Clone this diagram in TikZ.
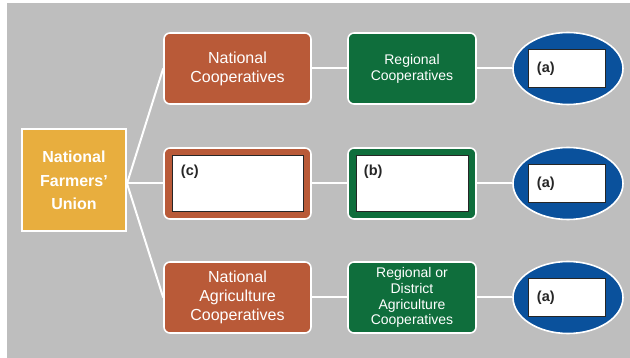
\documentclass[tikz,border=0pt]{standalone}
\usepackage{fontspec}
\setmainfont{Liberation Sans}
\usetikzlibrary{shapes.geometric}
\definecolor{bggrey}{HTML}{BEBEBE}
\definecolor{nfuyellow}{HTML}{E8AE3E}
\definecolor{rust}{HTML}{B95A38}
\definecolor{forest}{HTML}{0F6E3C}
\definecolor{royal}{HTML}{0A519C}
\tikzset{
  nfubox/.style={rectangle, fill=nfuyellow, draw=white, line width=2pt, minimum width=104pt, minimum height=102pt, align=center, text=white, font=\fontsize{16}{23.5}\selectfont\bfseries},
  natbox/.style={rectangle, rounded corners=6pt, fill=rust, draw=white, line width=1.6pt, minimum width=147pt, minimum height=71pt, align=center, text=white, font=\fontsize{16}{19}\selectfont},
  regbox/.style={rectangle, rounded corners=6pt, fill=forest, draw=white, line width=1.6pt, minimum width=128pt, minimum height=71pt, align=center, text=white, font=\fontsize{14}{15.8}\selectfont},
  endell/.style={ellipse, fill=royal, draw=white, line width=1.6pt, minimum width=110pt, minimum height=72pt, inner sep=0pt},
  ansbox/.style={rectangle, fill=white, draw=black!85, line width=1.5pt, inner sep=0pt},
  anslbl/.style={font=\fontsize{14.5}{16}\selectfont\bfseries, text=black!85, inner sep=0pt},
  link/.style={draw=white, line width=2pt}
}
\begin{document}
\begin{tikzpicture}[x=1pt,y=-1pt]
\useasboundingbox (0,0) rectangle (630,358);
\fill[bggrey] (7,3) rectangle (630,358);

\node[nfubox] (nfu) at (74,180.5) {National\\Farmers’\\Union};

\node[natbox] (nc) at (237.5,68.5) {National\\Cooperatives};
\node[natbox] (nm) at (237.5,183.5) {};
\node[natbox] (nb) at (237.5,297.5) {National\\Agriculture\\Cooperatives};

\node[regbox] (gc) at (412,68.5) {Regional\\Cooperatives};
\node[regbox] (gm) at (412,183.5) {};
\node[regbox] (gb) at (412,297.5) {Regional or\\District\\Agriculture\\Cooperatives};

\node[endell] (ec) at (568,68.5) {};
\node[endell] (em) at (568,183.5) {};
\node[endell] (eb) at (568,297.5) {};

% answer boxes
\node[ansbox, minimum width=131pt, minimum height=56pt] (cbox) at (238,183.5) {};
\node[anslbl, anchor=north west] (clbl) at ([xshift=9pt,yshift=-10pt]cbox.north west) {(c)};
\node[ansbox, minimum width=112pt, minimum height=56pt] (bbox) at (412.5,183.5) {};
\node[anslbl, anchor=north west] (blbl) at ([xshift=8pt,yshift=-10pt]bbox.north west) {(b)};

\node[ansbox, minimum width=77pt, minimum height=38pt] (abox1) at (567,68.5) {};
\node[anslbl, anchor=west] (albl1) at ([xshift=9pt]abox1.west) {(a)};
\node[ansbox, minimum width=77pt, minimum height=38pt] (abox2) at (567,183.5) {};
\node[anslbl, anchor=west] (albl2) at ([xshift=9pt]abox2.west) {(a)};
\node[ansbox, minimum width=77pt, minimum height=38pt] (abox3) at (567,297.5) {};
\node[anslbl, anchor=west] (albl3) at ([xshift=9pt]abox3.west) {(a)};

% connectors
\coordinate (fan) at (nfu.east |- nm.west);
\draw[link] (fan) -- (nc.west);
\draw[link] (fan) -- (nm.west);
\draw[link] (fan) -- (nb.west);
\draw[link] (nc.east) -- (gc.west);
\draw[link] (nm.east) -- (gm.west);
\draw[link] (nb.east) -- (gb.west);
\draw[link] (gc.east) -- (ec.west);
\draw[link] (gm.east) -- (em.west);
\draw[link] (gb.east) -- (eb.west);
\end{tikzpicture}
\end{document}
